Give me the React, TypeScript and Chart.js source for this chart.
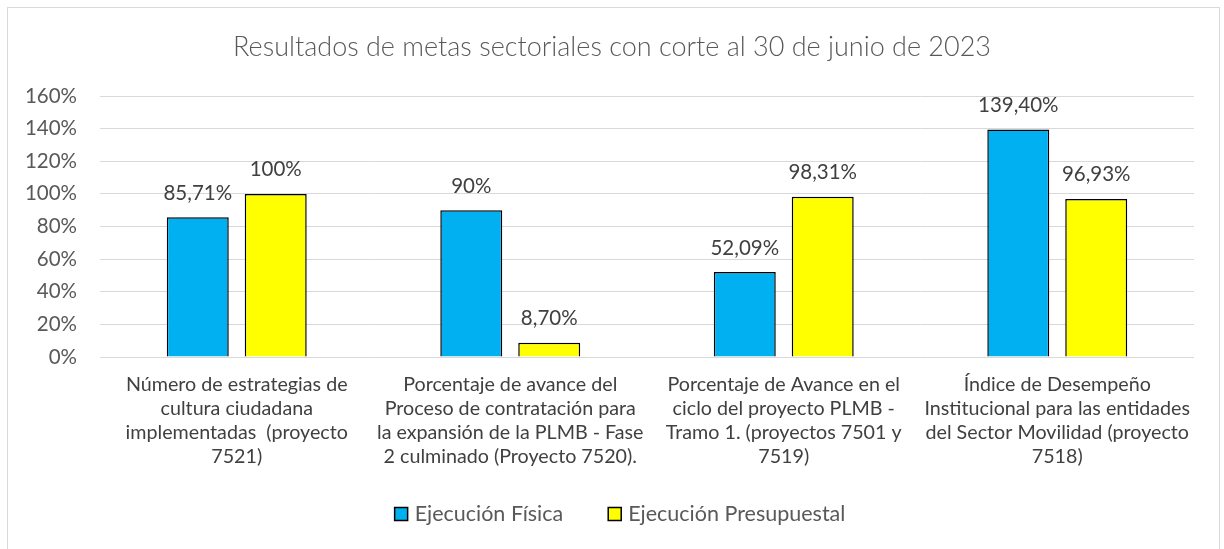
import React, { useEffect, useRef } from "react";
import { Chart, registerables } from "chart.js";

Chart.register(...registerables);

const TITLE = "Resultados de metas sectoriales con corte al 30 de junio de 2023";
const categories: string[][] = [
  ["Número de estrategias de", "cultura ciudadana", "implementadas  (proyecto", "7521)"],
  ["Porcentaje de avance del", "Proceso de contratación para", "la expansión de la PLMB - Fase", "2 culminado (Proyecto 7520)."],
  ["Porcentaje de Avance en el", "ciclo del proyecto PLMB -", "Tramo 1. (proyectos 7501 y", "7519)"],
  ["Índice de Desempeño", "Institucional para las entidades", "del Sector Movilidad (proyecto", "7518)"],
];
const seriesNames = ["Ejecución Física", "Ejecución Presupuestal"];
const seriesColors = ["#00B0F0", "#FFFF00"];
const fisica = [85.71, 90, 52.09, 139.4];
const presupuestal = [100, 8.7, 98.31, 96.93];
const yTicks = [0, 20, 40, 60, 80, 100, 120, 140, 160];

const FONT = "Lato, 'Liberation Sans', sans-serif";

const fmt = (v: number) =>
  (Number.isInteger(v) ? String(v) : v.toFixed(2).replace(".", ",")) + "%";

const valueLabels = {
  id: "valueLabels",
  afterDatasetsDraw(chart: any) {
    const ctx = chart.ctx;
    chart.data.datasets.forEach((ds: any, i: number) => {
      const meta = chart.getDatasetMeta(i);
      meta.data.forEach((bar: any, j: number) => {
        ctx.save();
        ctx.font = `20.5px ${FONT}`;
        ctx.fillStyle = "#404040";
        ctx.textAlign = "center";
        ctx.textBaseline = "middle";
        ctx.fillText(fmt(ds.data[j]), bar.x, bar.y - 24);
        ctx.restore();
      });
    });
  },
};

// Title and legend drawn on the canvas at fixed spots (centered on the frame, not the plot)
const titleLegend = {
  id: "titleLegend",
  afterDraw(chart: any) {
    const ctx = chart.ctx;
    ctx.save();
    ctx.fillStyle = "#595959";
    ctx.textBaseline = "middle";
    ctx.textAlign = "center";
    ctx.font = `300 27px ${FONT}`;
    ctx.fillText(TITLE, 612, 47);

    ctx.font = `21.5px ${FONT}`;
    ctx.textAlign = "left";
    const box = 13, gapText = 7, gapItem = 45;
    const widths = seriesNames.map((n) => ctx.measureText(n).width);
    const total = widths.reduce((a, w) => a + box + gapText + w, 0) + gapItem * (seriesNames.length - 1);
    let x = 620 - total / 2;
    const cy = 514;
    chart.data.datasets.forEach((ds: any, i: number) => {
      ctx.fillStyle = ds.backgroundColor;
      ctx.fillRect(x, cy - box / 2, box, box);
      ctx.strokeStyle = "#000";
      ctx.lineWidth = 1.5;
      ctx.strokeRect(x, cy - box / 2, box, box);
      ctx.fillStyle = "#595959";
      ctx.fillText(seriesNames[i], x + box + gapText, cy);
      x += box + gapText + widths[i] + gapItem;
    });
    ctx.restore();
  },
};

export default function App() {
  const ref = useRef<HTMLCanvasElement>(null);
  useEffect(() => {
    const chart = new Chart(ref.current as HTMLCanvasElement, {
      type: "bar",
      data: {
        labels: categories,
        datasets: [
          {
            label: seriesNames[0],
            data: fisica,
            backgroundColor: seriesColors[0],
            borderColor: "#000000",
            borderWidth: 1.5,
            categoryPercentage: 0.57,
            barPercentage: 0.795,
          },
          {
            label: seriesNames[1],
            data: presupuestal,
            backgroundColor: seriesColors[1],
            borderColor: "#000000",
            borderWidth: 1.5,
            categoryPercentage: 0.57,
            barPercentage: 0.795,
          },
        ],
      },
      options: {
        responsive: false,
        animation: false,
        layout: { padding: { left: 0, right: 30, top: 96, bottom: 0 } },
        scales: {
          x: {
            grid: { display: false },
            border: { display: false },
            ticks: {
              color: "#404040",
              font: { size: 19.7, family: FONT, lineHeight: 1.22 },
              padding: 8,
              maxRotation: 0,
              autoSkip: false,
            },
            afterFit: (s: any) => {
              s.height = 192;
            },
          },
          y: {
            min: 0,
            max: 160,
            afterBuildTicks: (s: any) => {
              s.ticks = yTicks.map((v) => ({ value: v }));
            },
            grid: { color: "#D9D9D9", lineWidth: 1, drawTicks: false },
            border: { display: false },
            ticks: {
              color: "#595959",
              font: { size: 20.5, family: FONT },
              padding: 23,
              callback: (v: any) => v + "%",
            },
            afterFit: (s: any) => {
              s.width = 100;
            },
          },
        },
        plugins: {
          title: { display: false },
          legend: { display: false },
          tooltip: { enabled: false },
        },
      },
      plugins: [valueLabels, titleLegend],
    });
    return () => chart.destroy();
  }, []);

  return (
    <div
      style={{
        position: "fixed",
        left: 0,
        top: 0,
        width: 1224,
        height: 549,
        overflow: "hidden",
        background: "#fff",
      }}
    >
      <div
        style={{
          position: "absolute",
          left: 7,
          top: 7,
          width: 1213,
          height: 600,
          border: "1px solid #D9D9D9",
          boxSizing: "border-box",
        }}
      />
      <canvas
        ref={ref}
        width={1224}
        height={549}
        style={{ position: "absolute", left: 0, top: 0, width: 1224, height: 549 }}
      />
    </div>
  );
}
